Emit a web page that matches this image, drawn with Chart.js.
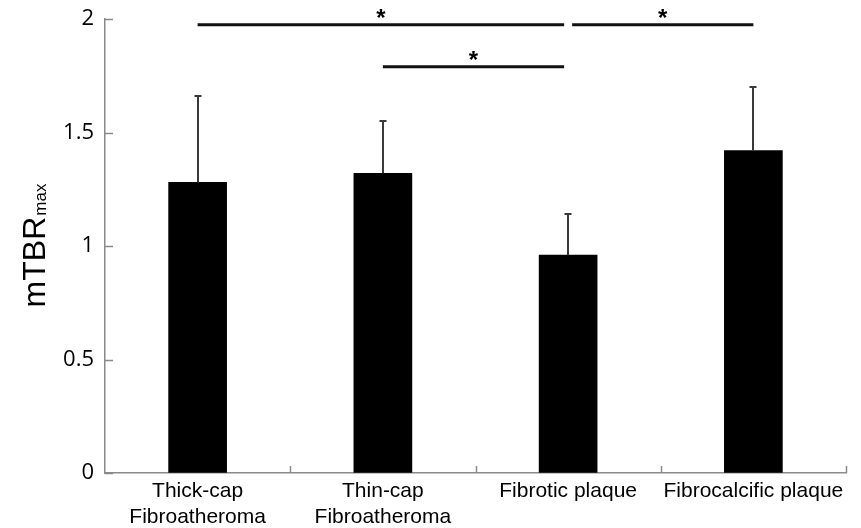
<!DOCTYPE html>
<html>
<head>
<meta charset="utf-8">
<script src="https://cdn.jsdelivr.net/npm/chart.js@4.4.1/dist/chart.umd.min.js"></script>
<style>
  html, body { margin: 0; padding: 0; background: #fff; }
</style>
</head>
<body>
<canvas id="tbr-chart" width="861" height="528"></canvas>
<script>
// data
const categories = [['Thick-cap', 'Fibroatheroma'], ['Thin-cap', 'Fibroatheroma'], 'Fibrotic plaque', 'Fibrocalcific plaque'];
const meanValues = [1.28, 1.32, 0.96, 1.42];
const upperError = [1.66, 1.55, 1.14, 1.70];
const yTicks = [0, 0.5, 1, 1.5, 2];

// significance brackets (category index from -> to, height in y units)
const sigFrom = [0, 2, 1];
const sigTo = [2, 3, 2];
const sigLevel = [1.975, 1.975, 1.79];

const AXIS_GREY = '#8a8a8a';

const decorPlugin = {
    id: 'decor',
    afterDraw(chart) {
        const ctx = chart.ctx;
        const xs = chart.scales.x;
        const ys = chart.scales.y;
        const area = chart.chartArea;
        ctx.save();

        // inward tick marks on the y axis
        ctx.strokeStyle = AXIS_GREY;
        ctx.lineWidth = 1.5;
        yTicks.forEach(t => {
            const py = Math.round(ys.getPixelForValue(t)) + 0.5;
            ctx.beginPath();
            ctx.moveTo(area.left, py);
            ctx.lineTo(area.left + 8, py);
            ctx.stroke();
        });
        // inward tick marks on the x axis, at category boundaries
        const bounds = [];
        for (let i = 1; i < categories.length; i++) {
            bounds.push((xs.getPixelForValue(i - 1) + xs.getPixelForValue(i)) / 2);
        }
        bounds.push(area.right);
        bounds.forEach(bx => {
            const px = Math.round(bx) + 0.5;
            ctx.beginPath();
            ctx.moveTo(px, area.bottom);
            ctx.lineTo(px, area.bottom - 7);
            ctx.stroke();
        });

        // error bars (upper only)
        ctx.strokeStyle = '#3a3a3a';
        ctx.lineWidth = 2;
        meanValues.forEach((v, i) => {
            const cx = Math.round(xs.getPixelForValue(i));
            const yBar = ys.getPixelForValue(v);
            const yErr = Math.round(ys.getPixelForValue(upperError[i]));
            ctx.beginPath();
            ctx.moveTo(cx, yBar);
            ctx.lineTo(cx, yErr);
            ctx.stroke();
            ctx.beginPath();
            ctx.moveTo(cx - 3.5, yErr);
            ctx.lineTo(cx + 3.5, yErr);
            ctx.stroke();
        });

        // significance lines + asterisks
        const used = {};
        sigFrom.concat(sigTo).forEach(c => { used[c] = (used[c] || 0) + 1; });
        ctx.strokeStyle = '#111';
        ctx.lineWidth = 3;
        ctx.fillStyle = '#000';
        ctx.font = 'bold 24px "Liberation Sans", Arial, sans-serif';
        ctx.textAlign = 'center';
        ctx.textBaseline = 'alphabetic';
        sigFrom.forEach((a, k) => {
            const b = sigTo[k];
            const x1 = xs.getPixelForValue(a) + (used[a] > 1 ? 4 : 0);
            const x2 = xs.getPixelForValue(b) - (used[b] > 1 ? 4 : 0);
            const ly = ys.getPixelForValue(sigLevel[k]);
            ctx.beginPath();
            ctx.moveTo(x1, ly);
            ctx.lineTo(x2, ly);
            ctx.stroke();
            ctx.fillText('*', (x1 + x2) / 2, ly + 1);
        });

        // y axis title with subscript
        const main = 'mTBR', sub = 'max';
        const mainFont = '32px "Liberation Sans", Arial, sans-serif';
        const subFont = '17px "Liberation Sans", Arial, sans-serif';
        ctx.font = mainFont;
        const wMain = ctx.measureText(main).width;
        ctx.font = subFont;
        const wSub = ctx.measureText(sub).width;
        const cy = (area.top + area.bottom) / 2;
        ctx.translate(45, cy);
        ctx.rotate(-Math.PI / 2);
        ctx.textAlign = 'left';
        ctx.fillStyle = '#000';
        const start = -(wMain + wSub) / 2;
        ctx.font = mainFont;
        ctx.fillText(main, start, 0);
        ctx.font = subFont;
        ctx.fillText(sub, start + wMain + 1, 1);

        ctx.restore();
    }
};

const ctx = document.getElementById('tbr-chart').getContext('2d');
const tbrChart = new Chart(ctx, {
    type: 'bar',
    data: {
        labels: categories,
        datasets: [{
            data: meanValues,
            backgroundColor: '#000',
            borderColor: '#000',
            borderWidth: 0,
            barThickness: 58
        }]
    },
    options: {
        responsive: false,
        animation: false,
        devicePixelRatio: 1,
        layout: { padding: { left: 0, top: 19, right: 15, bottom: 0 } },
        plugins: {
            legend: { display: false },
            tooltip: { enabled: false }
        },
        scales: {
            x: {
                offset: true,
                grid: { display: true, drawOnChartArea: false, drawTicks: false },
                border: { color: AXIS_GREY, width: 1.5 },
                ticks: {
                    color: '#000',
                    padding: 6,
                    maxRotation: 0,
                    autoSkip: false,
                    font: { family: '"Liberation Sans", Arial, sans-serif', size: 21, lineHeight: 1.2 }
                },
                afterFit(scale) {
                    scale.height = 55;
                    scale.paddingLeft = 0;
                    scale.paddingRight = 0;
                }
            },
            y: {
                min: 0,
                max: 2,
                grid: { display: true, drawOnChartArea: false, drawTicks: false },
                border: { color: AXIS_GREY, width: 1.5 },
                afterBuildTicks(scale) { scale.ticks = yTicks.map(v => ({ value: v })); },
                ticks: {
                    color: '#000',
                    padding: 11,
                    font: { family: '"Open Sans", sans-serif', size: 22 },
                    callback: v => String(v)
                },
                afterFit(scale) {
                    scale.width = 105;
                    scale.paddingTop = 0;
                    scale.paddingBottom = 0;
                }
            }
        }
    },
    plugins: [decorPlugin]
});
</script>
</body>
</html>
